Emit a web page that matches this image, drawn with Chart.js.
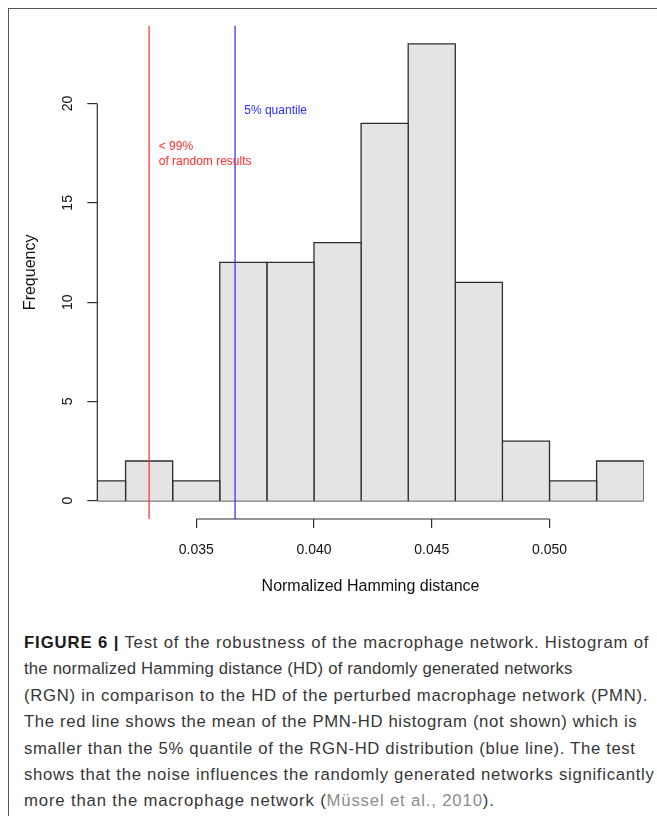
<!DOCTYPE html>
<html><head><meta charset="utf-8">
<script src="https://cdn.jsdelivr.net/npm/chart.js@4"></script>
<style>
html,body{margin:0;padding:0;background:#fff;width:657px;height:816px;overflow:hidden;}
#frame{position:absolute;left:7.5px;top:8px;width:720px;height:900px;border-left:1.5px solid #555;border-top:1.5px solid #555;pointer-events:none;}
#wrap{position:absolute;left:0;top:0;width:657px;height:612px;}
#cap{position:absolute;left:24px;top:630px;font-family:"Liberation Sans",Arial,sans-serif;font-size:16.7px;letter-spacing:0.72px;line-height:26.4px;color:#363636;white-space:nowrap;}
#cap b{color:#1a1a1a;letter-spacing:0.9px}
#cap .ref{color:#8c8c8c}
#cap .l1{letter-spacing:0.82px}
#cap .l2{letter-spacing:0.2px}
#cap .l4,#cap .l5{letter-spacing:0.66px}
#cap .l7{letter-spacing:0.85px}
</style></head>
<body>
<div id="wrap"><canvas id="c" width="657" height="612"></canvas></div>
<div id="cap">
<div class="l1"><b>FIGURE 6 |</b> Test of the robustness of the macrophage network. Histogram of</div>
<div class="l2">the normalized Hamming distance (HD) of randomly generated networks</div>
<div class="l3">(RGN) in comparison to the HD of the perturbed macrophage network (PMN).</div>
<div class="l4">The red line shows the mean of the PMN-HD histogram (not shown) which is</div>
<div class="l5">smaller than the 5% quantile of the RGN-HD distribution (blue line). The test</div>
<div class="l6">shows that the noise influences the randomly generated networks significantly</div>
<div class="l7">more than the macrophage network (<span class="ref">Müssel et al., 2010</span>).</div>
</div>
<div id="frame"></div>
<script>
// ---- data ----
const binEdges = [0.0308, 0.032, 0.034, 0.036, 0.038, 0.040, 0.042, 0.044, 0.046, 0.048, 0.050, 0.052, 0.054];
const binCounts = [1, 2, 1, 12, 12, 13, 19, 23, 11, 3, 1, 2];
const xTicks = [0.035, 0.040, 0.045, 0.050];
const yTicks = [0, 5, 10, 15, 20];
const yRange = [-0.92, 23.92];
const refLineValues = [0.0330, 0.03665];        // mean PMN-HD, 5% quantile RGN-HD
const refLineColors = ['#ff2a2a', '#2a2aff'];
const annoTexts = [['< 99%', 'of random results'], ['5% quantile']];
const annoX = [0.03341, 0.03704];
const annoY = [17.82, 19.63];
const xLabel = 'Normalized Hamming distance';
const yLabel = 'Frequency';

// ---- chart ----
const FONT = '"Liberation Sans", Arial, Helvetica, sans-serif';
const AXIS = '#2e2e2e';

const datasets = binCounts.map((c, i) => ({
  type: 'line',
  data: [{x: binEdges[i], y: 0}, {x: binEdges[i], y: c}, {x: binEdges[i + 1], y: c}, {x: binEdges[i + 1], y: 0}],
  borderColor: AXIS, borderWidth: 1.3, backgroundColor: '#e4e4e4',
  fill: 'origin', pointRadius: 0, tension: 0, borderJoinStyle: 'miter'
}));
datasets.push({
  type: 'line',
  data: [{x: binEdges[0], y: 0}, {x: binEdges[binEdges.length - 1], y: 0}],
  borderColor: AXIS, borderWidth: 1.3, pointRadius: 0, fill: false
});

const decor = {
  id: 'decor',
  afterDatasetsDraw(chart) {
    const {ctx, chartArea: a, scales: {x, y}} = chart;
    ctx.save();
    // reference lines (abline v=)
    ctx.lineWidth = 1.2;
    refLineValues.forEach((v, i) => {
      const px = x.getPixelForValue(v);
      ctx.strokeStyle = refLineColors[i];
      ctx.beginPath(); ctx.moveTo(px, a.top); ctx.lineTo(px, a.bottom); ctx.stroke();
    });
    // axis lines spanning tick range (R style)
    ctx.strokeStyle = AXIS; ctx.lineWidth = 1.2;
    ctx.beginPath();
    ctx.moveTo(x.getPixelForValue(xTicks[0]), a.bottom);
    ctx.lineTo(x.getPixelForValue(xTicks[xTicks.length - 1]), a.bottom);
    ctx.moveTo(a.left, y.getPixelForValue(yTicks[0]));
    ctx.lineTo(a.left, y.getPixelForValue(yTicks[yTicks.length - 1]));
    ctx.stroke();
    // annotations
    ctx.font = '12px ' + FONT; ctx.textAlign = 'left'; ctx.textBaseline = 'middle';
    annoTexts.forEach((lines, i) => {
      ctx.fillStyle = refLineColors[i];
      lines.forEach((t, j) => ctx.fillText(t, x.getPixelForValue(annoX[i]), y.getPixelForValue(annoY[i]) + j * 15));
    });
    ctx.restore();
  }
};

new Chart(document.getElementById('c'), {
  type: 'line',
  data: {datasets},
  plugins: [decor],
  options: {
    responsive: false, animation: false, events: [], devicePixelRatio: 1,
    layout: {padding: {left: 0, right: 13.3, top: 25.7, bottom: 0}},
    plugins: {legend: {display: false}, tooltip: {enabled: false}},
    scales: {
      x: {
        type: 'linear', min: binEdges[0], max: binEdges[binEdges.length - 1],
        afterBuildTicks: s => { s.ticks = xTicks.map(v => ({value: v})); },
        afterFit: s => { s.height = 93; },
        border: {display: false},
        grid: {drawOnChartArea: false, drawTicks: true, tickLength: 9, color: AXIS, lineWidth: 1.2},
        ticks: {autoSkip: false, maxRotation: 0, padding: 13.6, color: '#111',
                font: {family: FONT, size: 14}, callback: v => Number(v).toFixed(3)},
        title: {display: true, text: xLabel, color: '#111', font: {family: FONT, size: 16},
                padding: {top: 0, bottom: 15.7}}
      },
      y: {
        type: 'linear', min: yRange[0], max: yRange[1],
        afterBuildTicks: s => { s.ticks = yTicks.map(v => ({value: v})); },
        afterFit: s => { s.width = 97.3; },
        border: {display: false},
        grid: {drawOnChartArea: false, drawTicks: true, tickLength: 10, color: AXIS, lineWidth: 1.2},
        ticks: {autoSkip: false, minRotation: 90, maxRotation: 90, crossAlign: 'center', padding: 11,
                color: '#111', font: {family: FONT, size: 14}, callback: v => String(v)},
        title: {display: true, text: yLabel, color: '#111', font: {family: FONT, size: 16},
                padding: {top: 21.4, bottom: 0}}
      }
    }
  }
});
</script>
</body></html>
